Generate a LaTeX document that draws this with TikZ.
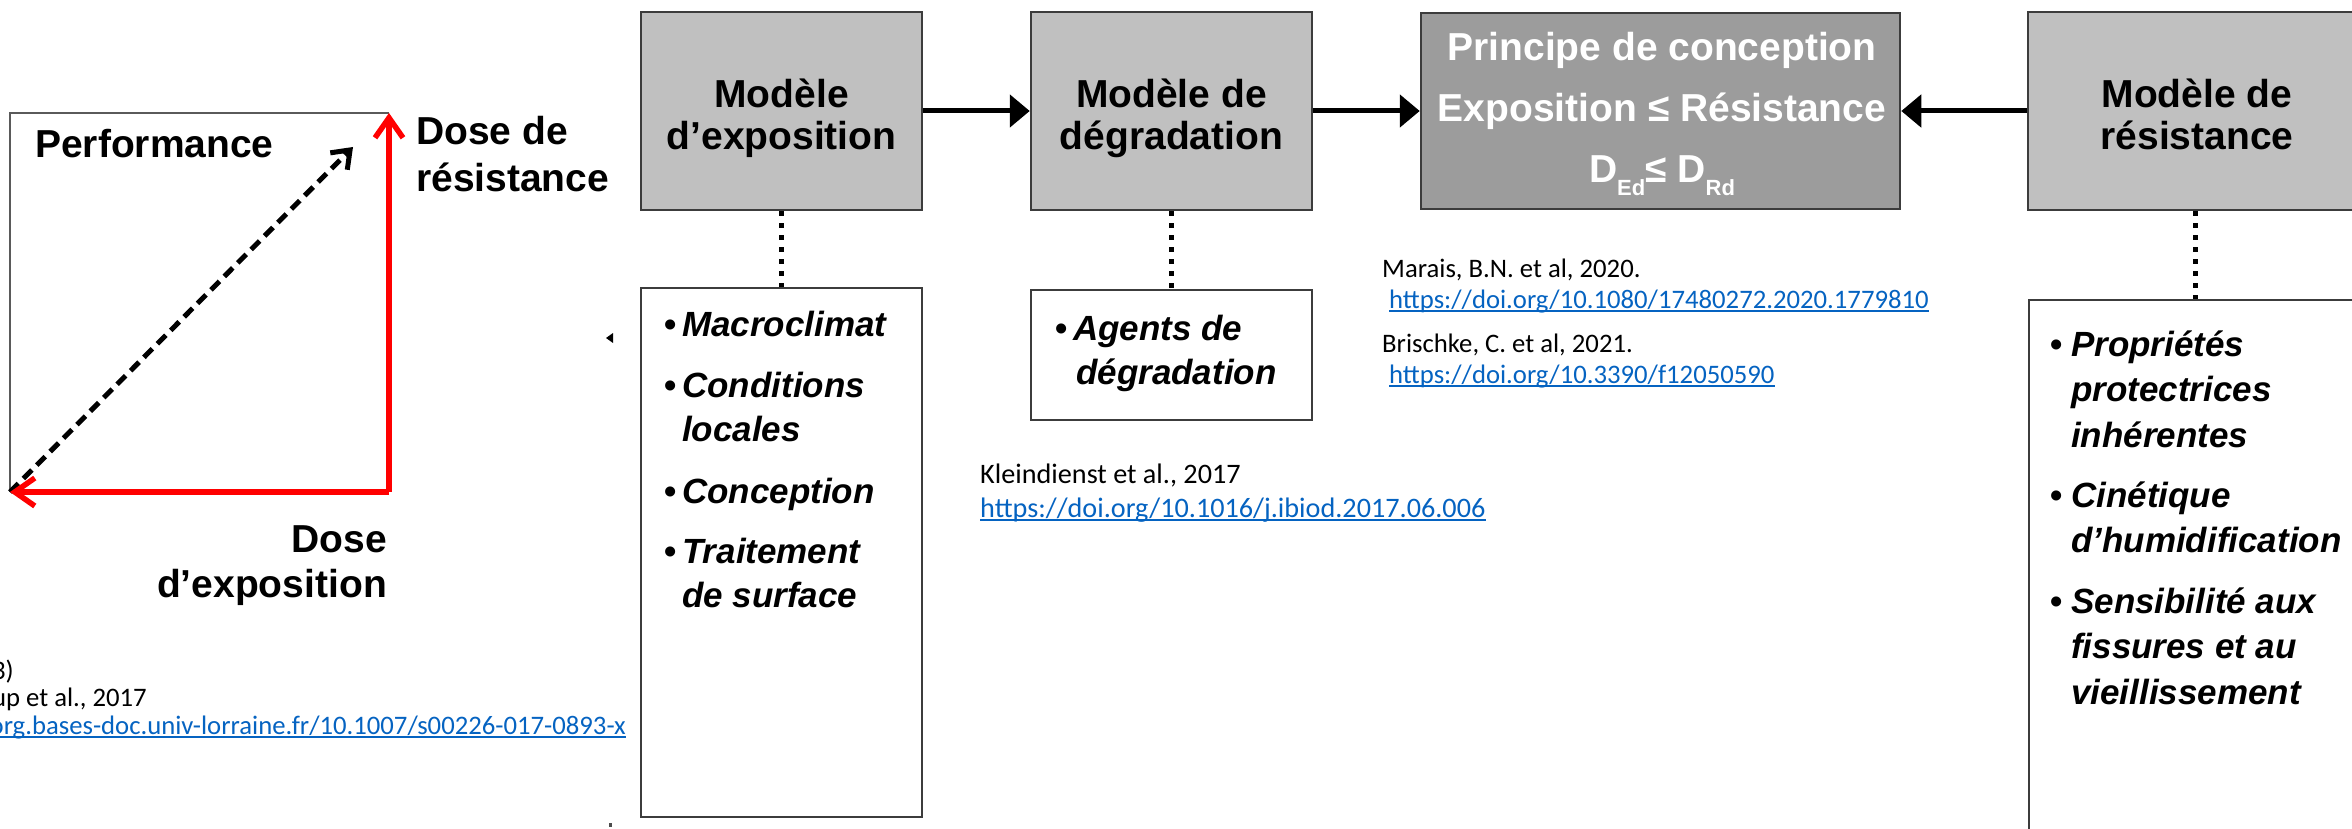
\documentclass[tikz,border=0pt]{standalone}
\usepackage{fontspec}
\setmainfont{Liberation Sans}
\newfontfamily\reffont{Carlito}
\usetikzlibrary{arrows.meta}
\definecolor{boxgray}{HTML}{C0C0C0}
\definecolor{pringray}{HTML}{9C9C9C}
\definecolor{bord}{HTML}{3C3C3C}
\definecolor{linkblue}{HTML}{0563C1}
\definecolor{axisgray}{HTML}{5A5A5A}
\newcommand{\reflink}[1]{\textcolor{linkblue}{\setbox0\hbox{#1}\rlap{\rule[-3.6pt]{\wd0}{1.7pt}}\box0}}
\newcommand{\bul}[1]{\makebox[#1][l]{\upshape •}}
\begin{document}
\begin{tikzpicture}[x=1pt,y=-1pt,
  titlebox/.style={draw=bord, line width=2.5pt, fill=boxgray, inner sep=0pt},
  listbox/.style={draw=bord, line width=2.5pt, fill=white, inner sep=0pt},
  flow/.style={line width=5pt, -{Triangle[length=20pt,width=32pt]}},
  dotline/.style={line width=5pt, dash pattern=on 5pt off 7pt},
  ttl/.style={font=\fontsize{39}{42}\selectfont\bfseries, inner sep=0pt},
  itm/.style={font=\fontsize{35}{44}\selectfont\bfseries\itshape, inner sep=0pt, anchor=base west},
  reftxt/.style={font=\reffont\fontsize{26.7}{31}\selectfont, inner sep=0pt},
  redarrow/.style={draw=red, line width=5.5pt, -{Straight Barb[length=20pt,width=28pt]}},
  perfarrow/.style={line width=5pt, dash pattern=on 12pt off 7pt, -{Straight Barb[length=16pt,width=24pt]}}
]
\useasboundingbox (0,0) rectangle (2352,829);
\clip (0,0) rectangle (2352,829);

% ---------- left performance diagram ----------
\coordinate (tl) at (10,113);
\coordinate (tr) at (389,113);
\coordinate (bl) at (10,492);
\coordinate (br) at (389,492);
\coordinate (tip) at (353,147);
\draw[axisgray, line width=2pt] (bl) -- (tl) -- (tr);
\draw[perfarrow] (bl) -- (tip);
\draw[redarrow] (br) -- (tr);
\draw[redarrow] (br) -- (bl);
\node[ttl, anchor=base west] (perf) at (35,158) {Performance};
\node[ttl, anchor=base west] (dres) at (416,145)
  {\parbox[t]{220pt}{\fontsize{39}{47}\selectfont Dose de\\résistance}};
\node[ttl, anchor=base east] (dexp) at (387,552)
  {\parbox[t]{260pt}{\raggedleft\fontsize{39}{45}\selectfont Dose\\d’exposition}};

% left references (cut off at the page edge)
\node[reftxt, anchor=base east] (l1) at (14,679) {3)};
\node[reftxt, anchor=base east] (l2) at (147,706) {up et al., 2017};
\node[reftxt, anchor=base east] (l3) at (626,734) {\reflink{org.bases-doc.univ-lorraine.fr/10.1007/s00226-017-0893-x}};

% small marks
\fill (613,333) -- (606,338) -- (613,343) -- cycle;
\fill[black!70] (609,823) rectangle (612,827);

% ---------- top boxes ----------
\node[titlebox, minimum width=281pt, minimum height=198pt] (E) at (781.5,111) {};
\node[titlebox, minimum width=281pt, minimum height=198pt] (D) at (1171.5,111) {};
\node[titlebox, fill=pringray, minimum width=479pt, minimum height=196pt] (P) at (1660.5,111) {};
\node[titlebox, minimum width=334pt, minimum height=198pt] (R) at (2195,111) {};

\node[ttl, anchor=base] (Et) at (781.5,108) {\parbox[t]{270pt}{\centering Modèle\\d’exposition}};
\node[ttl, anchor=base] (Dt) at (1171.5,108) {\parbox[t]{270pt}{\centering Modèle de\\dégradation}};
\node[ttl, anchor=base] (Rt) at (2197,108) {\parbox[t]{300pt}{\centering Modèle de\\résistance}};
\node[ttl, anchor=base, text=white] (Pt) at (1662,61) {\parbox[t]{480pt}{\centering
  Principe de conception\\[19pt]
  Exposition ≤ Résistance\\[19pt]
  D\raisebox{-13pt}{\fontsize{22}{22}\selectfont Ed}≤ D\raisebox{-13pt}{\fontsize{22}{22}\selectfont Rd}}};

\draw[flow] (E.east) -- (D.west);
\draw[flow] (D.east) -- (P.west);
\draw[flow] (R.west) -- (P.east);

% ---------- lower boxes ----------
\node[listbox, minimum width=281pt, minimum height=529pt] (LE) at (781.5,552.5) {};
\node[listbox, minimum width=281pt, minimum height=130pt] (LD) at (1171.5,355) {};
\node[listbox, minimum width=332pt, minimum height=640pt] (LR) at (2195,620) {};

\draw[dotline] (E.south) -- (LE.north);
\draw[dotline] (D.south) -- (LD.north);
\draw[dotline] (R.south) -- (LR.north);

\node[itm] (e1) at (664,336) {\bul{18pt}Macroclimat};
\node[itm] (e2) at (664,397) {\bul{18pt}\parbox[t]{220pt}{Conditions\\locales}};
\node[itm] (e3) at (664,503) {\bul{18pt}Conception};
\node[itm] (e4) at (664,563) {\bul{18pt}\parbox[t]{220pt}{Traitement\\de surface}};

\node[itm] (d1) at (1055,340) {\bul{18pt}\parbox[t]{230pt}{Agents de\\\hspace*{3pt}dégradation}};

\node[itm] (r1) at (2050,356) {\bul{21pt}\parbox[t]{290pt}{\fontsize{35}{45.5}\selectfont Propriétés\\protectrices\\inhérentes}};
\node[itm] (r2) at (2050,507) {\bul{21pt}\parbox[t]{290pt}{\fontsize{35}{45.5}\selectfont Cinétique\\d'humidification}};
\node[itm] (r3) at (2050,613) {\bul{21pt}\parbox[t]{290pt}{\fontsize{35}{45.5}\selectfont Sensibilité aux\\fissures et au\\vieillissement}};

% ---------- references ----------
\node[reftxt, anchor=base west] (m1) at (1382,277) {Marais, B.N. et al, 2020.};
\node[reftxt, anchor=base west] (m2) at (1389,308) {\reflink{https://doi.org/10.1080/17480272.2020.1779810}};
\node[reftxt, anchor=base west] (b1) at (1382,352) {Brischke, C. et al, 2021.};
\node[reftxt, anchor=base west] (b2) at (1389,383) {\reflink{https://doi.org/10.3390/f12050590}};
\node[reftxt, font=\reffont\fontsize{28.2}{32}\selectfont, anchor=base west] (k1) at (980,483) {Kleindienst et al., 2017};
\node[reftxt, font=\reffont\fontsize{28.2}{32}\selectfont, anchor=base west] (k2) at (980,517) {\reflink{https://doi.org/10.1016/j.ibiod.2017.06.006}};
\end{tikzpicture}
\end{document}
